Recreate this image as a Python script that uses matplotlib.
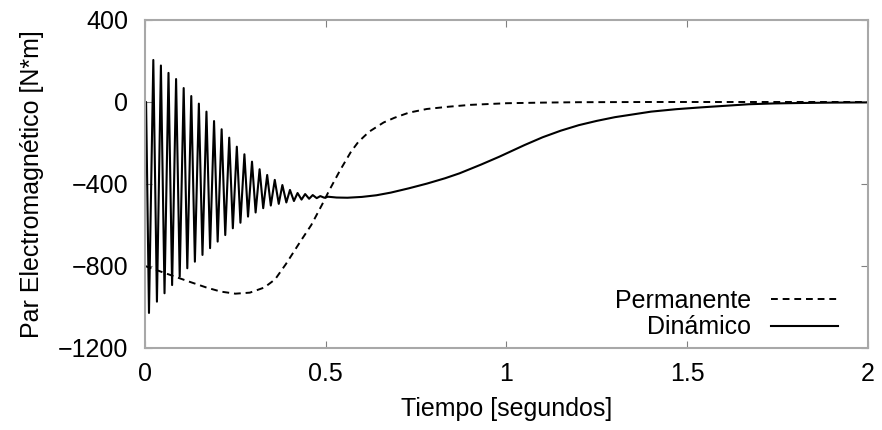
import numpy as np
import matplotlib.pyplot as plt

plt.rcParams['font.family'] = ['Liberation Sans', 'DejaVu Sans']

# Permanente (dashed)
t_perm = [0, 0.04, 0.08, 0.12, 0.17, 0.21, 0.25, 0.29, 0.33, 0.36, 0.39, 0.43,
          0.46, 0.49, 0.51, 0.54, 0.57, 0.59, 0.62, 0.66, 0.69, 0.73, 0.78,
          0.84, 0.90, 1.0, 1.1, 1.2, 1.4, 1.6, 2.0]
par_perm = [-800, -825, -850, -875, -905, -925, -935, -930, -905, -865, -790,
            -680, -600, -500, -430, -332, -242, -195, -145, -100, -77, -52,
            -34, -23, -14, -6, -3, -1, 0, 0, 0]

# Dinamico: extremos de la oscilacion inicial
t_valle = [0.011, 0.033, 0.054, 0.075, 0.096, 0.117, 0.138, 0.159, 0.180,
           0.201, 0.222, 0.243, 0.264, 0.285, 0.306, 0.327, 0.348, 0.370,
           0.391, 0.412, 0.433, 0.454, 0.475, 0.496]
par_valle = [-1029, -974, -933, -893, -852, -811, -779, -746, -713, -681,
             -649, -616, -589, -559, -539, -518, -505, -497, -490, -483,
             -476, -472, -469, -467]
t_pico = [0.023, 0.044, 0.065, 0.086, 0.107, 0.128, 0.149, 0.170, 0.191,
          0.212, 0.233, 0.254, 0.275, 0.296, 0.317, 0.338, 0.359, 0.380,
          0.401, 0.422, 0.443, 0.464, 0.485, 0.506]
par_pico = [205, 178, 142, 112, 68, 29, -8, -47, -93, -133, -174, -218, -255,
            -291, -328, -356, -380, -405, -429, -444, -449, -454, -459, -462]

# Dinamico: parte lenta
t_lento = [0.53, 0.56, 0.60, 0.64, 0.68, 0.73, 0.78, 0.83, 0.87, 0.93, 0.98,
           1.05, 1.10, 1.15, 1.20, 1.25, 1.30, 1.40, 1.47, 1.54, 1.61, 1.67,
           1.74, 1.81, 1.90, 2.0]
par_lento = [-466, -467, -463, -455, -442, -421, -398, -372, -348, -305, -267,
             -210, -172, -140, -113, -92, -74, -47, -35, -26, -18, -11, -7,
             -5, -3, -2]

t_dyn = [0.0, 0.003]
par_dyn = [0, 0]
for tv, pv, tp, pp in zip(t_valle, par_valle, t_pico, par_pico):
    t_dyn += [tv, tp]
    par_dyn += [pv, pp]
t_dyn += t_lento
par_dyn += par_lento

fig = plt.figure(figsize=(8.82, 4.3), dpi=100)
ax = fig.add_axes([0.1644, 0.1907, 0.8197, 0.7628])

ax.plot(t_perm, par_perm, color='black', linestyle=(0, (3.5, 2.5)),
        linewidth=1.4, label='Permanente')
ax.plot(t_dyn, par_dyn, color='black', linestyle='-', linewidth=1.5,
        label='Dinámico')

ax.set_xlim(0, 2)
ax.set_ylim(-1200, 400)
ax.set_xticks([0, 0.5, 1, 1.5, 2])
ax.set_xticklabels(['0', '0.5', '1', '1.5', '2'])
ax.set_yticks([-1200, -800, -400, 0, 400])

for s in ax.spines.values():
    s.set_color('#a8a8a8')
    s.set_linewidth(1.5)
ax.tick_params(direction='in', length=5, color='#808080', labelsize=18,
               top=True, right=True)
ax.tick_params(axis='x', pad=10)
ax.tick_params(axis='y', pad=12)

ax.set_xlabel('Tiempo [segundos]', fontsize=18, labelpad=8)
ax.set_ylabel('Par Electromagnético [N*m]', fontsize=18, labelpad=10)

ax.legend(loc='lower right', bbox_to_anchor=(0.958, 0.026), frameon=False,
          markerfirst=False, fontsize=18, handlelength=2.65, handletextpad=0.8,
          labelspacing=0.1, borderpad=0, borderaxespad=0)

fig.savefig('out.png', dpi=100)
